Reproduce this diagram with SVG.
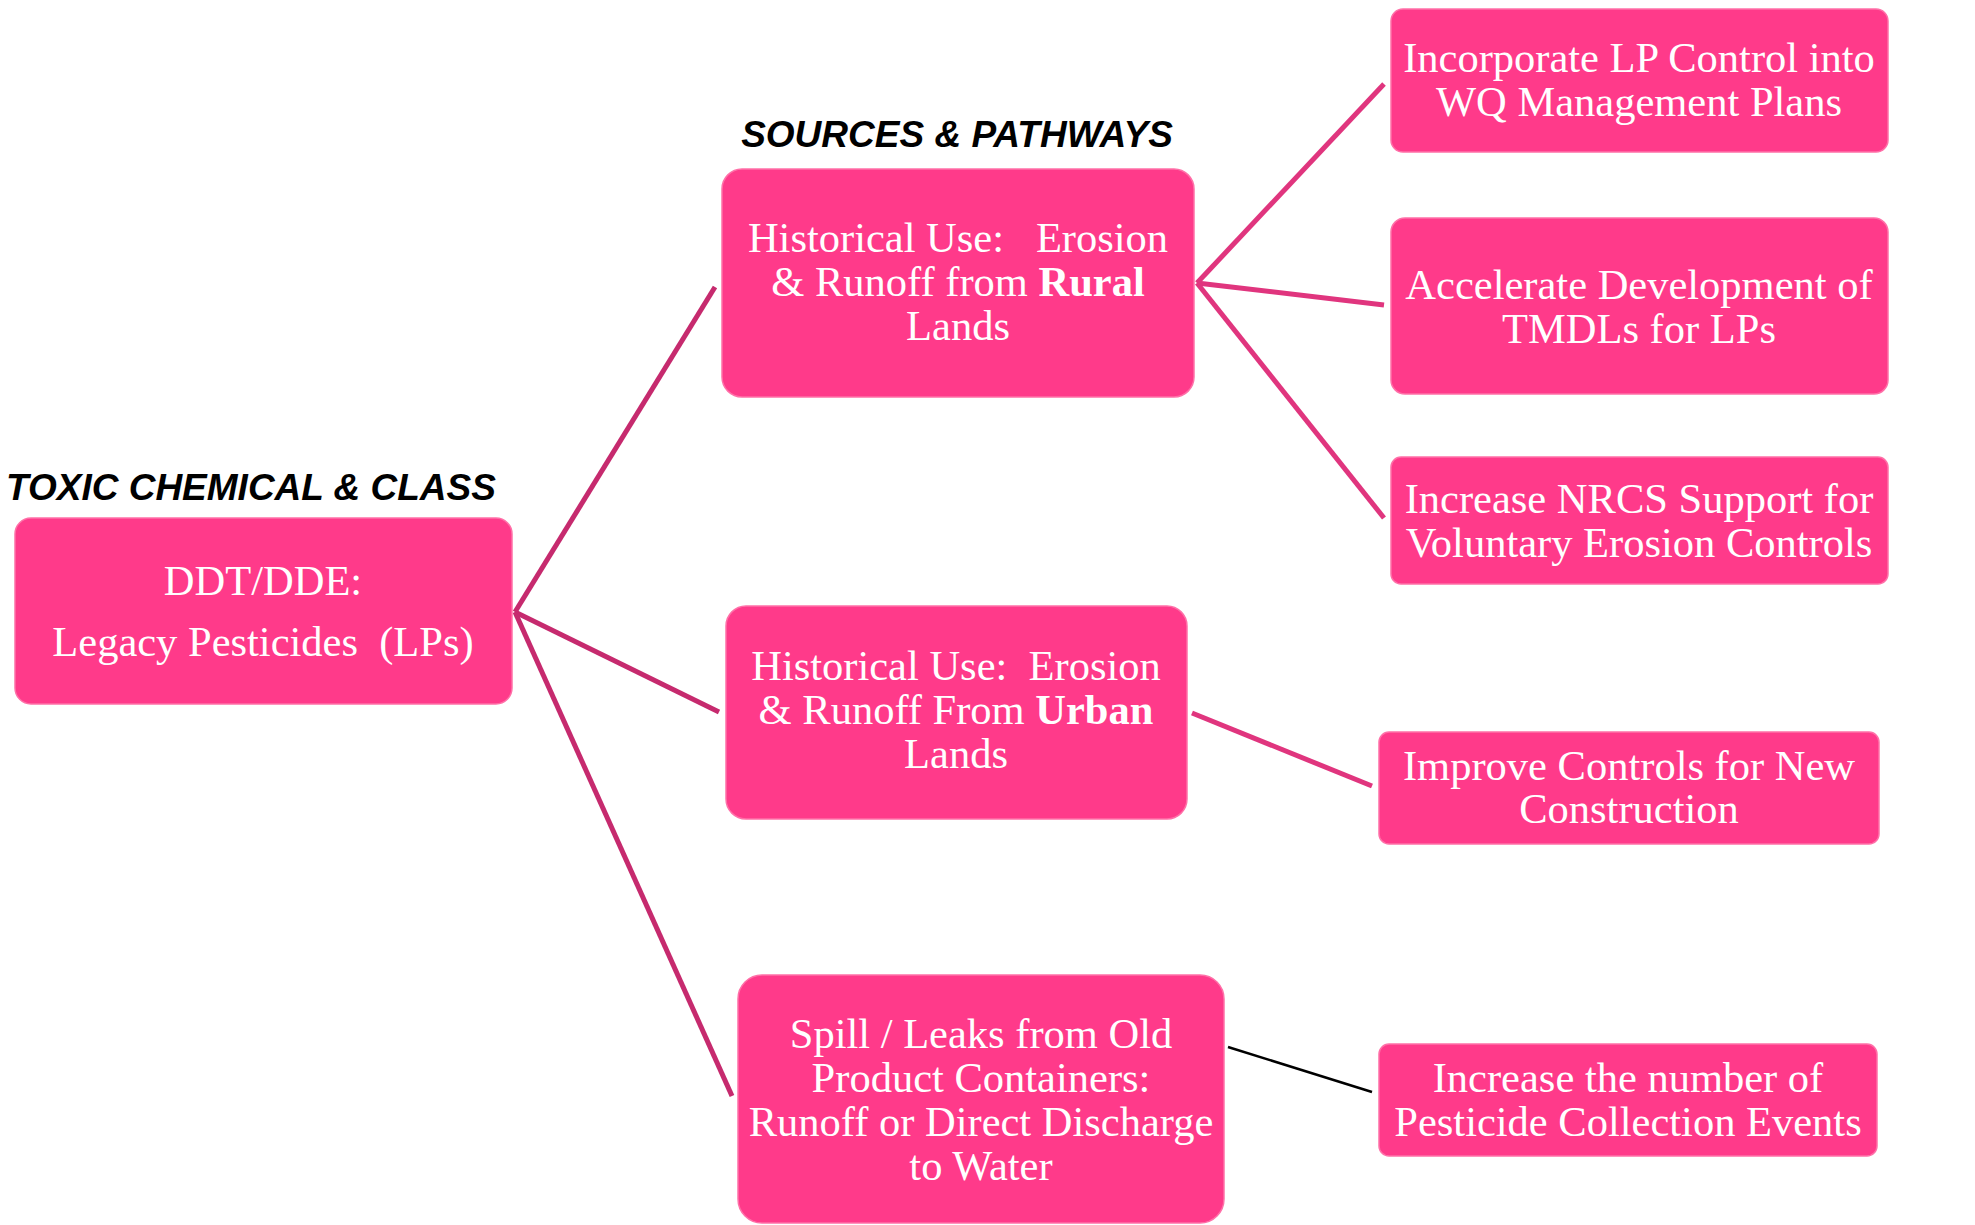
<svg xmlns="http://www.w3.org/2000/svg" width="1975" height="1225" viewBox="0 0 1975 1225">
<style>
.box{fill:#FF3A8A;stroke:#FF70A8;stroke-width:1.5}
.t{font-family:"Liberation Serif","Times New Roman",serif;font-size:42.5px;fill:#FFFFFF;text-anchor:middle}
.h{font-family:"Liberation Sans",Arial,sans-serif;font-size:37px;font-weight:bold;font-style:italic;fill:#000000}
.c1{stroke:#C62A6E;stroke-width:5;fill:none}
.c2{stroke:#E0357E;stroke-width:5;fill:none}
.c3{stroke:#000000;stroke-width:2.5;fill:none}
</style>
<rect width="1975" height="1225" fill="#FFFFFF"/>
<text class="h" x="6" y="500">TOXIC CHEMICAL &amp; CLASS</text>
<text class="h" x="957" y="147" text-anchor="middle">SOURCES &amp; PATHWAYS</text>
<g id="connectors">
<line class="c1" x1="515" y1="612" x2="715" y2="287"/>
<line class="c1" x1="515" y1="612" x2="719" y2="712"/>
<line class="c1" x1="515" y1="612" x2="732" y2="1096"/>
<line class="c2" x1="1197" y1="283" x2="1384" y2="84"/>
<line class="c2" x1="1197" y1="283" x2="1384" y2="305"/>
<line class="c2" x1="1197" y1="283" x2="1384" y2="518"/>
<line class="c2" x1="1192" y1="713" x2="1372" y2="786"/>
<line class="c3" x1="1228" y1="1047" x2="1372" y2="1092"/>
</g>
<g id="ddt">
<rect class="box" x="15" y="518" width="497" height="186" rx="16"/>
<text class="t" x="263" y="595">DDT/DDE:</text>
<text class="t" x="263" y="656" xml:space="preserve">Legacy Pesticides  (LPs)</text>
</g>
<g id="rural">
<rect class="box" x="722" y="169" width="472" height="228" rx="20"/>
<text class="t" x="958" y="252" xml:space="preserve">Historical Use:   Erosion</text>
<text class="t" x="958" y="296">&amp; Runoff from <tspan font-weight="bold">Rural</tspan></text>
<text class="t" x="958" y="340">Lands</text>
</g>
<g id="urban">
<rect class="box" x="726" y="606" width="461" height="213" rx="20"/>
<text class="t" x="956" y="680" xml:space="preserve">Historical Use:  Erosion</text>
<text class="t" x="956" y="724">&amp; Runoff From <tspan font-weight="bold">Urban</tspan></text>
<text class="t" x="956" y="768">Lands</text>
</g>
<g id="spill">
<rect class="box" x="738" y="975" width="486" height="248" rx="24"/>
<text class="t" x="981" y="1048">Spill / Leaks from Old</text>
<text class="t" x="981" y="1092">Product Containers:</text>
<text class="t" x="981" y="1136">Runoff or Direct Discharge</text>
<text class="t" x="981" y="1180">to Water</text>
</g>
<g id="r1">
<rect class="box" x="1391" y="9" width="497" height="143" rx="12"/>
<text class="t" x="1639" y="72">Incorporate LP Control into</text>
<text class="t" x="1639" y="116">WQ Management Plans</text>
</g>
<g id="r2">
<rect class="box" x="1391" y="218" width="497" height="176" rx="14"/>
<text class="t" x="1639" y="299">Accelerate Development of</text>
<text class="t" x="1639" y="343">TMDLs for LPs</text>
</g>
<g id="r3">
<rect class="box" x="1391" y="457" width="497" height="127" rx="10"/>
<text class="t" x="1639" y="513">Increase NRCS Support for</text>
<text class="t" x="1639" y="557">Voluntary Erosion Controls</text>
</g>
<g id="r4">
<rect class="box" x="1379" y="732" width="500" height="112" rx="10"/>
<text class="t" x="1629" y="780">Improve Controls for New</text>
<text class="t" x="1629" y="823">Construction</text>
</g>
<g id="r5">
<rect class="box" x="1379" y="1044" width="498" height="112" rx="10"/>
<text class="t" x="1628" y="1092">Increase the number of</text>
<text class="t" x="1628" y="1136">Pesticide Collection Events</text>
</g>
</svg>
